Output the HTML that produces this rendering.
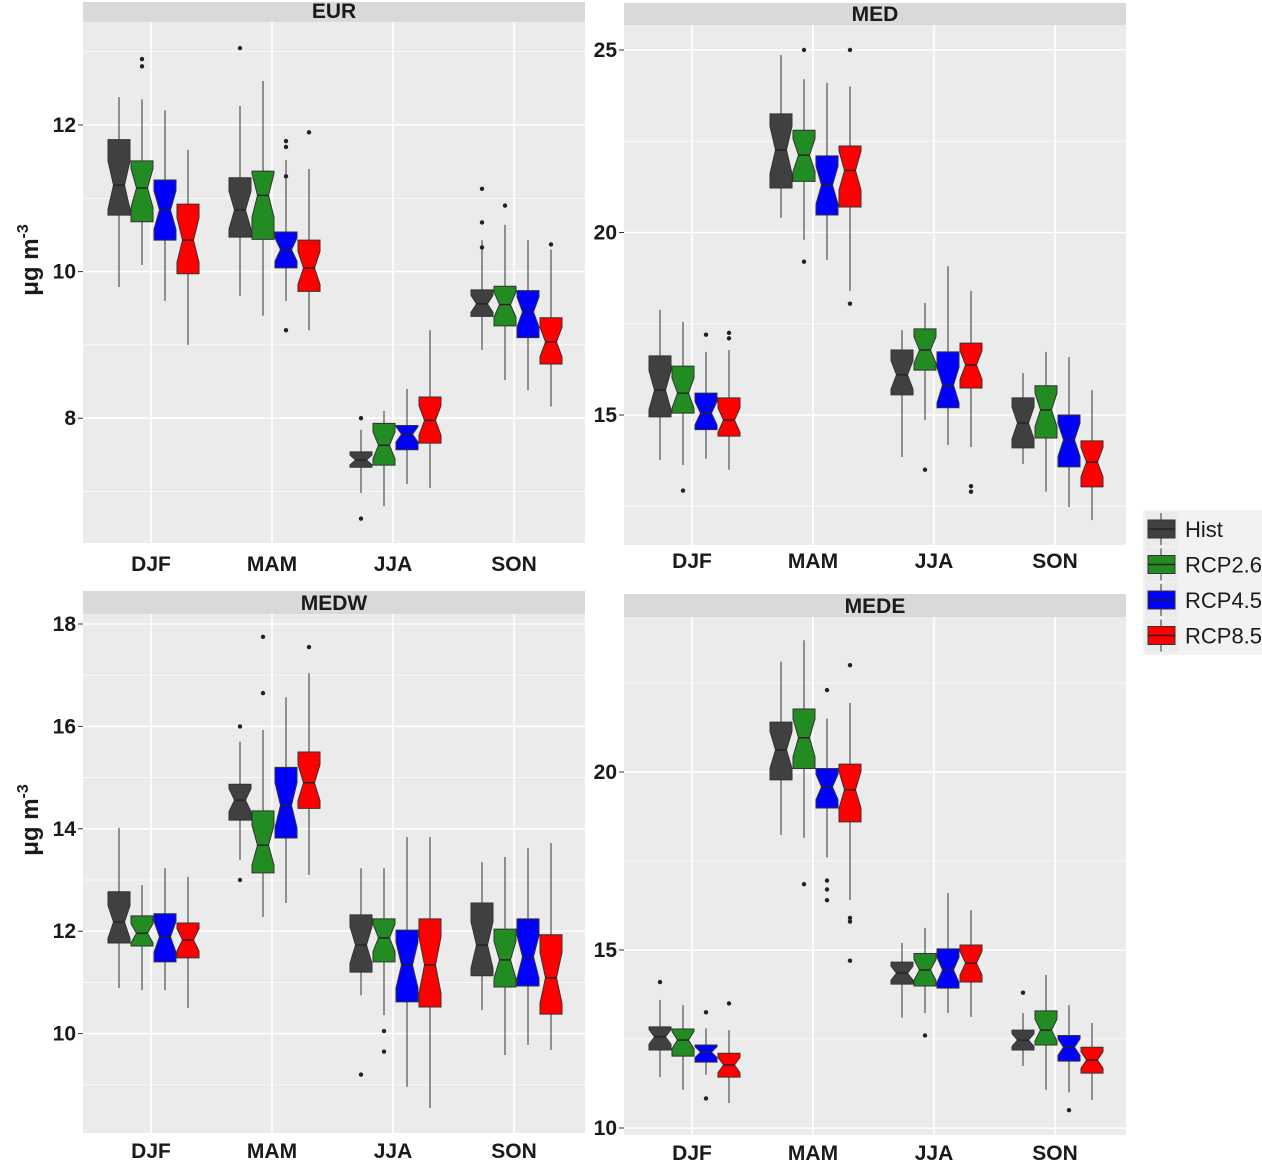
<!DOCTYPE html>
<html><head><meta charset="utf-8">
<style>
body{margin:0;background:#fff;}
svg{display:block;font-family:"Liberation Sans",sans-serif;}
</style></head>
<body>
<svg id="chart" width="1262" height="1163" viewBox="0 0 1262 1163" xmlns="http://www.w3.org/2000/svg"></svg>
<script>
const seasons = ["DJF","MAM","JJA","SON"];
const seriesNames = ["Hist","RCP2.6","RCP4.5","RCP8.5"];
const seriesColors = ["#404040","#228B22","#0000FF","#FF0000"];
// each box: [lowerWhisker, q1, median, q3, upperWhisker]
const eurBoxes = [
 [[9.79,10.77,11.18,11.8,12.38],[10.09,10.68,11.14,11.51,12.35],[9.6,10.43,10.84,11.25,12.2],[9.0,9.97,10.43,10.92,11.66]],
 [[9.67,10.47,10.84,11.28,12.26],[9.4,10.44,11.04,11.37,12.6],[9.6,10.05,10.3,10.54,11.52],[9.2,9.73,10.05,10.43,11.4]],
 [[6.98,7.33,7.43,7.54,7.84],[6.8,7.36,7.63,7.93,8.1],[7.1,7.57,7.78,7.9,8.4],[7.05,7.66,7.97,8.29,9.2]],
 [[8.93,9.39,9.56,9.75,10.43],[8.52,9.26,9.55,9.8,10.64],[8.38,9.1,9.45,9.74,10.43],[8.16,8.74,9.04,9.37,10.3]]];
const eurOutliers = [[[],[12.9,12.8],[],[]],[[13.05],[],[11.78,11.7,11.3,9.2],[11.9]],[[8.0,6.63],[],[],[]],[[11.13,10.67,10.33],[10.9],[],[10.37]]];
const medBoxes = [
 [[13.77,14.95,15.68,16.62,17.88],[13.63,15.05,15.6,16.34,17.55],[13.8,14.6,15.05,15.6,16.73],[13.5,14.42,14.86,15.47,16.78]],
 [[20.4,21.22,22.26,23.25,24.86],[19.8,21.4,22.12,22.8,24.2],[19.25,20.48,21.3,22.1,24.1],[18.4,20.7,21.7,22.37,24.0]],
 [[13.85,15.55,16.1,16.78,17.33],[14.86,16.23,16.78,17.36,18.07],[14.18,15.2,15.82,16.73,19.08],[14.12,15.74,16.37,16.97,18.4]],
 [[13.66,14.1,14.78,15.47,16.15],[12.9,14.37,15.14,15.8,16.73],[12.48,13.58,14.32,15.0,16.59],[12.12,13.03,13.71,14.29,15.68]]];
const medOutliers = [[[],[12.93],[17.2],[17.25,17.1]],[[],[25.0,19.2],[],[25.0,18.05]],[[],[13.5],[],[12.9,13.05]],[[],[],[],[]]];
const medwBoxes = [
 [[10.89,11.77,12.18,12.77,14.02],[10.85,11.71,11.96,12.3,12.9],[10.85,11.4,11.89,12.34,13.23],[10.5,11.48,11.83,12.16,13.06]],
 [[13.39,14.17,14.56,14.87,15.7],[12.28,13.14,13.68,14.35,15.93],[12.55,13.82,14.46,15.2,16.57],[13.1,14.4,14.9,15.5,17.04]],
 [[10.75,11.2,11.73,12.32,13.23],[10.36,11.4,11.87,12.24,13.23],[8.96,10.62,11.34,12.02,13.84],[8.55,10.52,11.34,12.24,13.84]],
 [[10.46,11.13,11.73,12.55,13.35],[9.58,10.91,11.44,12.04,13.45],[9.78,10.93,11.5,12.24,13.62],[9.68,10.38,11.09,11.93,13.72]]];
const medwOutliers = [[[],[],[],[]],[[16.0,13.0],[17.75,16.65],[],[17.55]],[[9.2],[10.05,9.65],[],[]],[[],[],[],[]]];
const medeBoxes = [
 [[11.43,12.19,12.56,12.84,13.6],[11.07,12.02,12.47,12.78,13.45],[11.5,11.85,12.13,12.33,12.8],[10.7,11.43,11.77,12.1,12.75]],
 [[18.23,19.78,20.62,21.4,23.1],[18.15,20.1,20.96,21.77,23.7],[17.6,18.99,19.58,20.1,21.5],[16.4,18.6,19.5,20.22,21.94]],
 [[13.1,14.04,14.35,14.66,15.2],[13.23,13.99,14.44,14.9,15.62],[13.23,13.93,14.44,15.03,16.6],[13.12,14.1,14.63,15.14,16.12]],
 [[11.74,12.19,12.47,12.75,13.23],[11.07,12.33,12.75,13.29,14.3],[11.0,11.88,12.27,12.6,13.45],[10.79,11.54,11.91,12.27,12.95]]];
const medeOutliers = [[[14.1],[],[13.25,10.83],[13.5]],[[],[16.85],[22.3,16.95,16.7,16.4],[23.0,15.9,15.8,14.7]],[[],[12.6],[],[]],[[13.8],[],[10.5],[]]];

const eurTicks=[8,10,12], medTicks=[15,20,25], medwTicks=[10,12,14,16,18], medeTicks=[10,15,20];

const NS="http://www.w3.org/2000/svg";
const svg=document.getElementById("chart");
function el(tag,attrs,parent){const e=document.createElementNS(NS,tag);for(const k in attrs)e.setAttribute(k,attrs[k]);(parent||svg).appendChild(e);return e;}

const panels=[
 {title:"EUR",x0:83,x1:585,y0:22,y1:543,sy:2,v0:12,p0:125,ppu:73.3,ticks:eurTicks,minor:1,boxes:eurBoxes,out:eurOutliers,xl:563},
 {title:"MED",x0:624,x1:1126,y0:25,y1:545,sy:3,v0:25,p0:50,ppu:36.5,ticks:medTicks,minor:2.5,boxes:medBoxes,out:medOutliers,xl:560},
 {title:"MEDW",x0:83,x1:585,y0:614,y1:1133,sy:591,v0:18,p0:624,ppu:51.2,ticks:medwTicks,minor:1,boxes:medwBoxes,out:medwOutliers,xl:1150},
 {title:"MEDE",x0:624,x1:1126,y0:617,y1:1135,sy:594,v0:20,p0:772,ppu:35.6,ticks:medeTicks,minor:2.5,boxes:medeBoxes,out:medeOutliers,xl:1152}];
const offs=[-32,-9,14,37], bw=22;

panels.forEach(p=>{
 const g=el("g",{});
 
 
 const Y=v=>p.p0-(v-p.v0)*p.ppu;
 const X=i=>p.x0+68+i*121;
 el("rect",{x:p.x0,y:p.sy,width:p.x1-p.x0,height:p.y0-p.sy,fill:"#D9D9D9"},g);
 const st=el("text",{x:(p.x0+p.x1)/2,y:p.y0-4,"text-anchor":"middle","font-size":21,"font-weight":"bold",fill:"#1a1a1a"},g);
 st.textContent=p.title;
 
 
 el("rect",{x:p.x0,y:p.y0,width:p.x1-p.x0,height:p.y1-p.y0,fill:"#EBEBEB"},g);
 // minor grid
 const vmin=p.v0-(p.y1-p.p0)/p.ppu, vmax=p.v0+(p.p0-p.y0)/p.ppu;
 for(let v=Math.ceil(vmin/p.minor)*p.minor; v<=vmax; v+=p.minor){
   const y=Y(v); el("line",{x1:p.x0,x2:p.x1,y1:y,y2:y,stroke:"#fff","stroke-width":p.ticks.includes(+v.toFixed(2))?1.6:0.7},g);
 }
 seasons.forEach((s,i)=>{
   el("line",{x1:X(i),x2:X(i),y1:p.y0,y2:p.y1,stroke:"#fff","stroke-width":1.6},g);
   const t=el("text",{x:X(i),y:p.xl+8,"text-anchor":"middle","font-size":21,"font-weight":"bold",fill:"#1a1a1a"},g);
   t.textContent=s;
   
   
 });
 p.ticks.forEach(v=>{
   const y=Y(v);
   el("line",{x1:p.x0-5,x2:p.x0,y1:y,y2:y,stroke:"#333","stroke-width":1},g);
   const t=el("text",{x:p.x0-7,y:y+7,"text-anchor":"end","font-size":21,"font-weight":"bold",fill:"#1a1a1a"},g);
   t.textContent=v;
   
   
 });
 p.boxes.forEach((grp,i)=>{
   grp.forEach((b,j)=>{
     const cx=X(i)+offs[j], xa=cx-bw/2, xb=cx+bw/2;
     const [lw,q1,md,q3,uw]=b;
     const nd=(q3-q1)*0.32;
     const nu=Math.min(q3,md+nd), nl=Math.max(q1,md-nd), ind=bw/4;
     el("line",{x1:cx,x2:cx,y1:Y(uw),y2:Y(q3),stroke:"#333","stroke-width":1},g);
     el("line",{x1:cx,x2:cx,y1:Y(q1),y2:Y(lw),stroke:"#333","stroke-width":1},g);
     const pts=[[xa,Y(q3)],[xb,Y(q3)],[xb,Y(nu)],[xb-ind,Y(md)],[xb,Y(nl)],[xb,Y(q1)],[xa,Y(q1)],[xa,Y(nl)],[xa+ind,Y(md)],[xa,Y(nu)]].map(q=>q.join(",")).join(" ");
     const box=el("polygon",{points:pts,fill:seriesColors[j],stroke:"#333","stroke-width":1},g);
     
     
     el("line",{x1:xa+ind,x2:xb-ind,y1:Y(md),y2:Y(md),stroke:"#222","stroke-width":1.4},g);
     p.out[i][j].forEach(o=>{
       const c=el("circle",{cx:cx,cy:Y(o),r:2.2,fill:"#222"},g);
       
       
     });
   });
 });
});
function s2(n){return n.toLowerCase().replace(/\./g,'');}

// y-axis titles
[[30,260],[30,820]].forEach(([x,y])=>{
 const t=el("text",{x:0,y:0,transform:`translate(${x+8},${y}) rotate(-90)`,"text-anchor":"middle","font-size":24,"font-weight":"bold",fill:"#1a1a1a"});
 t.innerHTML='μg m<tspan dy="-10" font-size="16">-3</tspan>';
 
 
});

// legend
const lg=el("g",{});


el("rect",{x:1143,y:510,width:119,height:145,fill:"#F2F2F2"},lg);
seriesNames.forEach((n,j)=>{
 const cy=529+j*35.5;
 el("rect",{x:1145,y:cy-17,width:33,height:34,fill:"#EBEBEB"},lg);
 el("line",{x1:1161,x2:1161,y1:cy-16,y2:cy+16,stroke:"#333","stroke-width":1},lg);
 const r=el("rect",{x:1148,y:cy-9,width:27,height:18,fill:seriesColors[j],stroke:"#333","stroke-width":1},lg);
 
 
 el("line",{x1:1148,x2:1175,y1:cy,y2:cy,stroke:"#222","stroke-width":1.4},lg);
 const t=el("text",{x:1185,y:cy+8,"font-size":22,fill:"#1a1a1a"},lg);
 t.textContent=n;
 
 
});
</script>
</body></html>
